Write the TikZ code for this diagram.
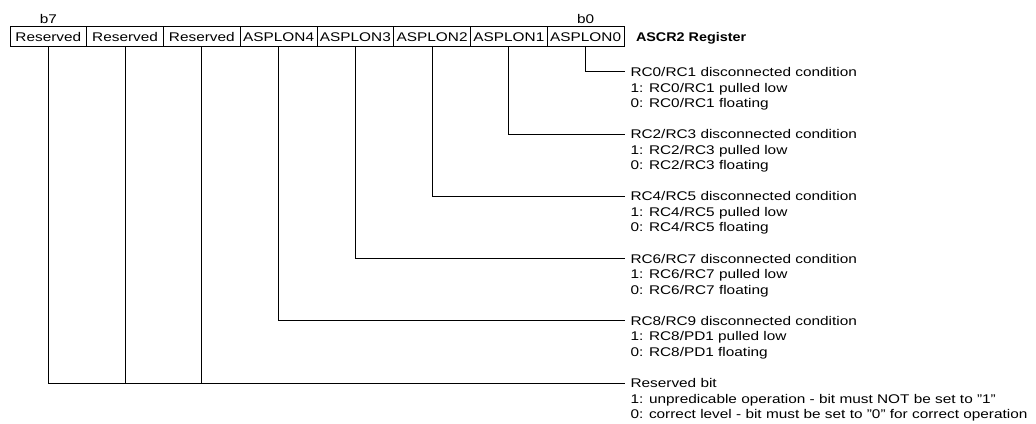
\documentclass[tikz,border=0pt]{standalone}
\usepackage{fontspec}
\setmainfont{Liberation Sans}[FakeStretch=1.22]
\newfontfamily\regfont{Liberation Sans}[FakeStretch=1.14]
\newcommand\diagfont{\fontsize{9.45pt}{11.6pt}\selectfont}
\usetikzlibrary{calc}

\begin{document}
\begin{tikzpicture}[x=0.75pt,y=-0.75pt,line width=0.75pt,
  every node/.style={font=\diagfont,inner sep=0pt},
  cell/.style={draw,minimum width=57.5625pt,minimum height=15pt,
    text height=6.8pt,text depth=0pt},
  desc/.style={anchor=west,inner xsep=3.75pt,inner ysep=0pt,
    text height=6.8pt,text depth=0pt},
  bitlbl/.style={anchor=base},
  wire/.style={draw,line width=0.75pt}]
\useasboundingbox (0,0) rectangle (1036,424);

% register cells, b7 on the left
\node[cell] (c7) at (48.375,37)  {Reserved};
\node[cell] (c6) at (125.125,37) {Reserved};
\node[cell] (c5) at (201.875,37) {Reserved};
\node[cell] (c4) at (278.625,37) {ASPLON4};
\node[cell] (c3) at (355.375,37) {ASPLON3};
\node[cell] (c2) at (432.125,37) {ASPLON2};
\node[cell] (c1) at (508.875,37) {ASPLON1};
\node[cell] (c0) at (585.625,37) {ASPLON0};

\node[bitlbl] (b7) at ([yshift=2.6pt]c7.north) {b7};
\node[bitlbl] (b0) at ([yshift=2.6pt]c0.north) {b0};

\node[anchor=west,text height=6.8pt,text depth=0pt,font=\regfont\bfseries\diagfont]
  (reg) at ([xshift=8.25pt]c0.east) {ASCR2 Register};

% bit descriptions
\node[desc] (t0)  at (625,72)     {RC0/RC1 disconnected condition};
\node[desc] (t0a) at (625,87.5)   {1: RC0/RC1 pulled low};
\node[desc] (t0b) at (625,103)    {0: RC0/RC1 floating};

\node[desc] (t1)  at (625,134.2)  {RC2/RC3 disconnected condition};
\node[desc] (t1a) at (625,149.7)  {1: RC2/RC3 pulled low};
\node[desc] (t1b) at (625,165.2)  {0: RC2/RC3 floating};

\node[desc] (t2)  at (625,196.4)  {RC4/RC5 disconnected condition};
\node[desc] (t2a) at (625,211.9)  {1: RC4/RC5 pulled low};
\node[desc] (t2b) at (625,227.4)  {0: RC4/RC5 floating};

\node[desc] (t3)  at (625,258.6)  {RC6/RC7 disconnected condition};
\node[desc] (t3a) at (625,274.1)  {1: RC6/RC7 pulled low};
\node[desc] (t3b) at (625,289.6)  {0: RC6/RC7 floating};

\node[desc] (t4)  at (625,320.8)  {RC8/RC9 disconnected condition};
\node[desc] (t4a) at (625,336.3)  {1: RC8/PD1 pulled low};
\node[desc] (t4b) at (625,351.8)  {0: RC8/PD1 floating};

\node[desc] (tr)  at (625,383)    {Reserved bit};
\node[desc] (tra) at (625,398.5)  {1: unpredicable operation - bit must NOT be set to "1"};
\node[desc] (trb) at (625,414)    {0: correct level - bit must be set to "0" for correct operation};

% leader lines
\draw[wire] (c0.south) |- (t0.west);
\draw[wire] (c1.south) |- (t1.west);
\draw[wire] (c2.south) |- (t2.west);
\draw[wire] (c3.south) |- (t3.west);
\draw[wire] (c4.south) |- (t4.west);
\draw[wire] (c7.south) |- (tr.west);
\draw[wire] (c6.south) -- (c6.south |- tr.west);
\draw[wire] (c5.south) -- (c5.south |- tr.west);
\end{tikzpicture}
\end{document}
